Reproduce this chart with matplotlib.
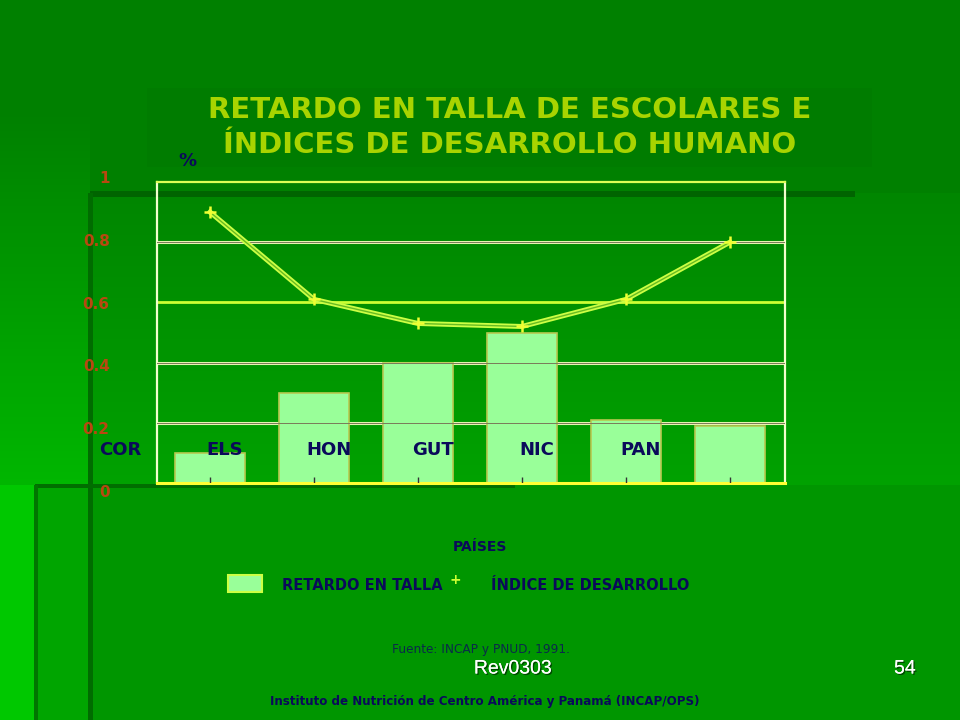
import numpy as np
import matplotlib
matplotlib.use('Agg')
import matplotlib.pyplot as plt
from matplotlib.patches import Rectangle
import matplotlib.patheffects as pe

# data
paises = ['COR', 'ELS', 'HON', 'GUT', 'NIC', 'PAN']
retardo_talla = [0.10, 0.30, 0.40, 0.50, 0.21, 0.19]
indice_desarrollo = [0.90, 0.61, 0.53, 0.52, 0.61, 0.80]
y_ticks = [0, 0.2, 0.4, 0.6, 0.8, 1]
y_tick_labels = ['0', '0.2', '0.4', '0.6', '0.8', '1']

NAVY = '#0a0a5a'
W, H = 960, 720

fig = plt.figure(figsize=(9.6, 7.2), dpi=100)

# slide background (green gradient with shadow strips)
bg = fig.add_axes([0, 0, 1, 1])
yy, xx = np.mgrid[0:H, 0:W]
g = np.full((H, W), 128.0)
mid = (yy >= 193) & (yy < 485)
g[mid] = 134 + (yy[mid] - 193) / 292 * 28
g[yy >= 485] = 150
left = (xx < 90) & (yy < 485)
g[left] = np.clip(128 + (yy[left] - 110) / 375 * 55, 128, 185)
g[(xx < 90) & (yy >= 485)] = 165
g[(xx < 35) & (yy >= 485)] = 200
g[(yy >= 88) & (yy < 167) & (xx >= 147) & (xx < 872)] = 124
# dark shadow strips
g[(yy >= 191) & (yy < 197) & (xx >= 90) & (xx < 855)] = 100
g[(yy >= 193) & (xx >= 88) & (xx < 93)] = 108
g[(yy >= 484) & (yy < 488) & (xx >= 35) & (xx < 515)] = 110
g[(yy >= 485) & (xx >= 34) & (xx < 38)] = 118
img = np.zeros((H, W, 3))
img[..., 1] = g / 255.0
bg.imshow(img, extent=[0, W, H, 0], aspect='auto', interpolation='nearest')
bg.set_xlim(0, W)
bg.set_ylim(H, 0)
bg.axis('off')

# chart area
ax = fig.add_axes([157 / W, 1 - 483 / H, 628 / W, 301 / H])
ax.patch.set_alpha(0)
x = np.arange(len(paises))
ax.set_xlim(-0.51, 5.53)
ax.set_ylim(0, 1)

# gridlines: light line under bars, thin dark line above
for v in [0.2, 0.4, 0.8]:
    ax.axhline(v, color='#e6f5b0', lw=2.2, zorder=1)
    ax.axhline(v, color='#7a7a5a', lw=0.7, zorder=3)
ax.axhline(0.6, color='#ccff33', lw=2.0, zorder=1)

ax.bar(x, retardo_talla, width=0.67, color='#99ff99', edgecolor='#b8c850',
       linewidth=1.2, zorder=2)

# bottom tick marks at the bar centres
ax.vlines(x, 0, 0.02, color='#333333', lw=1, zorder=3)

ax.plot(x, indice_desarrollo, color='#ccff44', lw=3.6, zorder=4)
ax.plot(x, indice_desarrollo, color='#66bb22', lw=1.0, zorder=5,
        marker='+', markersize=9, markeredgewidth=1.8, markeredgecolor='#eeff33')

for s in ['top', 'left', 'right']:
    ax.spines[s].set_color('#f4ffcc')
    ax.spines[s].set_linewidth(1.6)
ax.spines['bottom'].set_color('#ffff33')
ax.spines['bottom'].set_linewidth(2.2)
ax.spines['top'].set_color('#ddff55')
ax.set_xticks([])
ax.set_yticks([])

# category labels sit shifted left of the bars, as in the slide
for i, p in enumerate(paises):
    ax.text(i - 0.86, 0.11, p, ha='center', va='center', fontsize=13,
            fontweight='bold', color=NAVY, zorder=6, clip_on=False)

# y labels (slightly off the gridlines in the original)
for v, lab in zip(y_ticks, y_tick_labels):
    ax.text(-0.965, -0.033 + v * 1.046, lab, ha='right', va='center',
            fontsize=11, fontweight='bold', color='#b84810', clip_on=False)

# titles and annotations
fig.text(510 / W, 1 - 110 / H, 'RETARDO EN TALLA DE ESCOLARES E', ha='center',
         va='center', fontsize=21, fontweight='bold', color='#a8d400')
fig.text(510 / W, 1 - 145 / H, 'ÍNDICES DE DESARROLLO HUMANO', ha='center',
         va='center', fontsize=21, fontweight='bold', color='#a8d400')
fig.text(187 / W, 1 - 161 / H, '%', ha='center', va='center', fontsize=13,
         fontweight='bold', color=NAVY)

fig.text(480 / W, 1 - 547 / H, 'PAÍSES', ha='center', va='center',
         fontsize=10, fontweight='bold', color=NAVY)

# legend
fig.patches.append(Rectangle((228 / W, 1 - 592 / H), 34 / W, 17 / H,
                             transform=fig.transFigure, facecolor='#99ff99',
                             edgecolor='#ccff44', lw=1.5))
fig.text(362 / W, 1 - 585 / H, 'RETARDO EN TALLA', ha='center', va='center',
         fontsize=10.5, fontweight='bold', color=NAVY)
fig.text(455 / W, 1 - 580 / H, '+', ha='center', va='center', fontsize=10,
         fontweight='bold', color='#ccff33')
fig.text(590 / W, 1 - 585 / H, 'ÍNDICE DE DESARROLLO', ha='center', va='center',
         fontsize=10.5, fontweight='bold', color=NAVY)

fig.text(481 / W, 1 - 649 / H, 'Fuente: INCAP y PNUD, 1991.', ha='center',
         va='center', fontsize=8.7, color='#0a2a4a')
shadow = [pe.withSimplePatchShadow(offset=(1, -1), shadow_rgbFace='#003300', alpha=0.8),
          pe.Normal()]
fig.text(513 / W, 1 - 669 / H, 'Rev0303', ha='center', va='center', fontsize=14,
         color='white', family='Liberation Sans', path_effects=shadow)
fig.text(905 / W, 1 - 669 / H, '54', ha='center', va='center', fontsize=14,
         color='white', family='Liberation Sans', path_effects=shadow)
fig.text(485 / W, 1 - 701 / H,
         'Instituto de Nutrición de Centro América y Panamá (INCAP/OPS)',
         ha='center', va='center', fontsize=8.6, fontweight='bold', color=NAVY)

fig.savefig('out.png', dpi=100)
